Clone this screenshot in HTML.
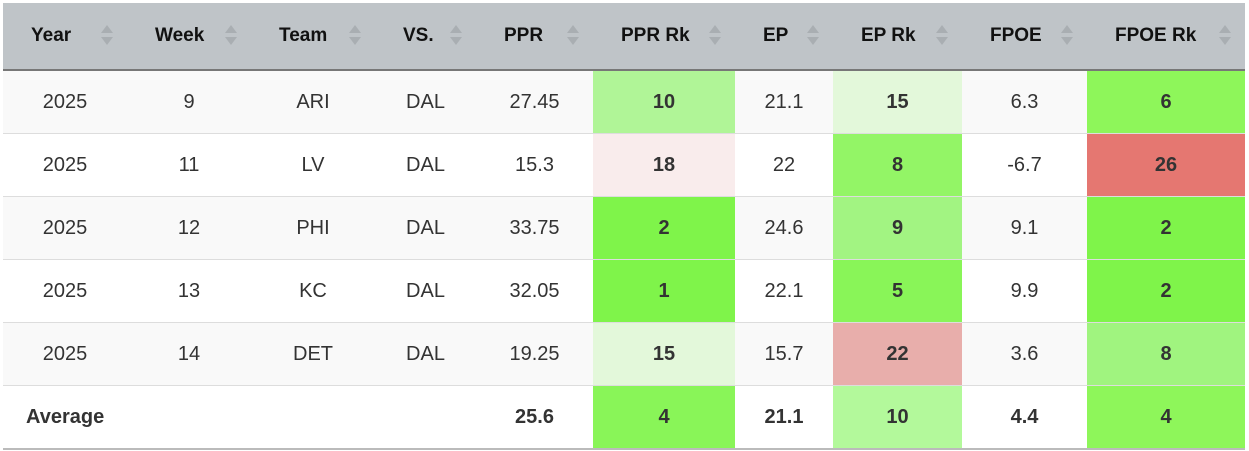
<!DOCTYPE html>
<html><head><style>
body{margin:0;background:#fff;font-family:"Liberation Sans",Arial,sans-serif;}
table{position:absolute;left:3px;top:3px;border-collapse:collapse;width:1242px;table-layout:fixed;font-size:20px;color:#333;}
th{background:#bfc4c8;height:66px;text-align:left;padding:0 0 0 28px;font-weight:bold;color:#111;border-bottom:2px solid #777;position:relative;font-size:19px}
th span{position:absolute;right:20px;top:22px;width:0;height:0;}
th span:before{content:"";position:absolute;left:-6px;top:0;border:6px solid transparent;border-bottom:8px solid #a9aeb2;border-top:0}
th span:after{content:"";position:absolute;left:-6px;top:12px;border:6px solid transparent;border-top:8px solid #a9aeb2;border-bottom:0}
td{height:62px;text-align:center;border-top:1px solid #ddd;padding:0}
tr.o td{background:#f9f9f9}
tr.e td{background:#fff}
td.b{font-weight:bold}
tr.avg td{border-bottom:2px solid #bbb;font-weight:bold}
</style></head><body>
<table>
<colgroup><col style="width:124px"><col style="width:124px"><col style="width:124px"><col style="width:101px"><col style="width:117px"><col style="width:142px"><col style="width:98px"><col style="width:129px"><col style="width:125px"><col style="width:158px"></colgroup>
<tr><th>Year<span></span></th><th>Week<span></span></th><th>Team<span></span></th><th>VS.<span></span></th><th>PPR<span></span></th><th>PPR Rk<span></span></th><th>EP<span></span></th><th>EP Rk<span></span></th><th>FPOE<span></span></th><th>FPOE Rk<span></span></th></tr>
<tr class="o"><td>2025</td><td>9</td><td>ARI</td><td>DAL</td><td>27.45</td><td class="b" style="background:#b0f597">10</td><td>21.1</td><td class="b" style="background:#e3f8da">15</td><td>6.3</td><td class="b" style="background:#8ef65a">6</td></tr>
<tr class="e"><td>2025</td><td>11</td><td>LV</td><td>DAL</td><td>15.3</td><td class="b" style="background:#f9ecec">18</td><td>22</td><td class="b" style="background:#93f566">8</td><td>-6.7</td><td class="b" style="background:#e57771">26</td></tr>
<tr class="o"><td>2025</td><td>12</td><td>PHI</td><td>DAL</td><td>33.75</td><td class="b" style="background:#7ff44a">2</td><td>24.6</td><td class="b" style="background:#a2f482">9</td><td>9.1</td><td class="b" style="background:#7ff44a">2</td></tr>
<tr class="e"><td>2025</td><td>13</td><td>KC</td><td>DAL</td><td>32.05</td><td class="b" style="background:#7ff44a">1</td><td>22.1</td><td class="b" style="background:#89f558">5</td><td>9.9</td><td class="b" style="background:#7ff44a">2</td></tr>
<tr class="o"><td>2025</td><td>14</td><td>DET</td><td>DAL</td><td>19.25</td><td class="b" style="background:#e3f8da">15</td><td>15.7</td><td class="b" style="background:#e8aeab">22</td><td>3.6</td><td class="b" style="background:#a0f47f">8</td></tr>
<tr class="e avg"><td style="text-align:left;padding-left:23px">Average</td><td></td><td></td><td></td><td>25.6</td><td style="background:#89f558">4</td><td>21.1</td><td style="background:#b3f99b">10</td><td>4.4</td><td style="background:#8ef65a">4</td></tr>
</table>
</body></html>
